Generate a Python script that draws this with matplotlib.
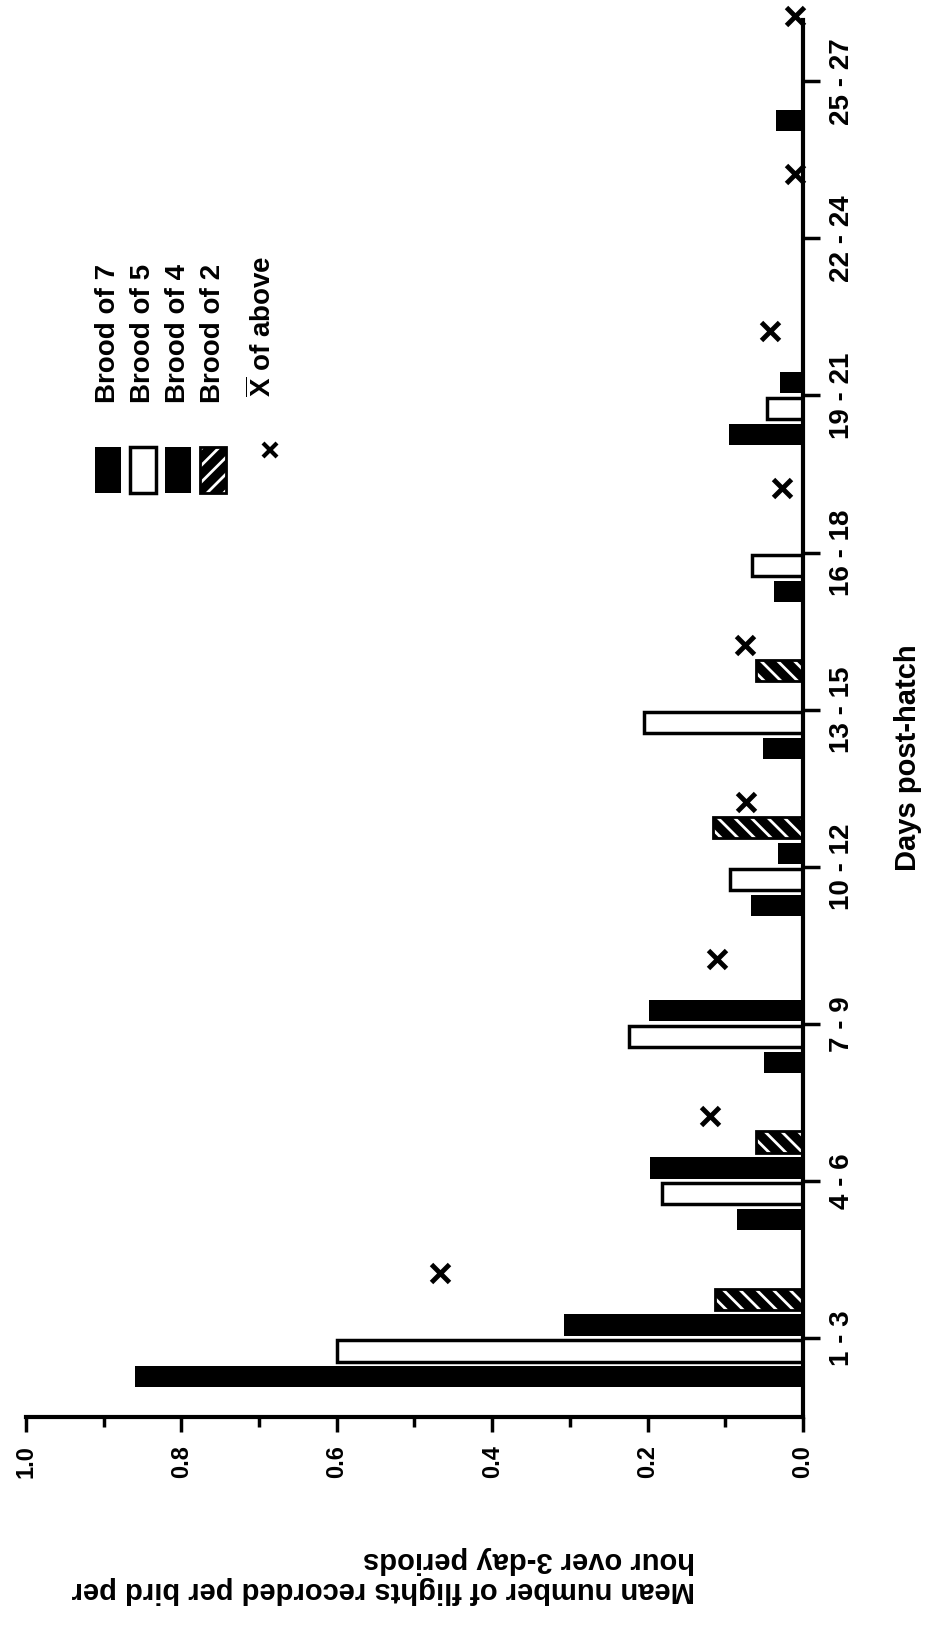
import numpy as np
import matplotlib
matplotlib.use("Agg")
import matplotlib.pyplot as plt
from matplotlib.patches import Rectangle
from matplotlib.lines import Line2D

# --- DATA ---
categories = ["1 - 3", "4 - 6", "7 - 9", "10 - 12", "13 - 15",
              "16 - 18", "19 - 21", "22 - 24", "25 - 27"]
nan = np.nan
brood_7 = [0.86, 0.085, 0.050, 0.067, 0.052, 0.037, 0.095, nan, 0.035]
brood_5 = [0.60, 0.181, 0.224, 0.094, 0.204, 0.065, 0.046, nan, nan]
brood_4 = [0.307, 0.197, 0.198, 0.032, nan, nan, 0.029, nan, nan]
brood_2 = [0.113, 0.060, nan, 0.116, 0.061, nan, nan, nan, nan]
x_mean = [0.467, 0.120, 0.111, 0.073, 0.075, 0.027, 0.042, 0.010, 0.010]

value_ticks = [0.0, 0.2, 0.4, 0.6, 0.8, 1.0]
value_labels = ["0.0", "0.2", "0.4", "0.6", "0.8", "1.0"]

plt.rcParams['font.family'] = ['Liberation Sans', 'DejaVu Sans']
plt.rcParams['font.weight'] = 'bold'
plt.rcParams['mathtext.fontset'] = 'custom'
plt.rcParams['mathtext.rm'] = 'Liberation Sans:bold'
plt.rcParams['mathtext.bf'] = 'Liberation Sans:bold'
plt.rcParams['hatch.linewidth'] = 2.0

W, H = 931, 1627
fig = plt.figure(figsize=(W / 100, H / 100), dpi=100)
# the chart is printed turned 90 degrees: values run right->left, days bottom->top
ax = fig.add_axes([26 / W, (H - 1417) / H, (803 - 26) / W, (1417 - 20) / H])

pos = np.arange(len(categories))
step = 0.165
thick = 0.135

series = [(brood_7, 'black'), (brood_5, 'white'), (brood_4, 'black'), (brood_2, 'hatch')]
for k, (vals, style) in enumerate(series):
    v = np.array(vals, dtype=float)
    m = ~np.isnan(v)
    y = pos[m] + (k - 1.5) * step
    if style == 'black':
        ax.barh(y, v[m], height=thick, color='black', linewidth=0)
    elif style == 'white':
        ax.barh(y, v[m], height=thick, facecolor='white', edgecolor='black', linewidth=2.5)
    else:
        ax.barh(y, v[m], height=thick, facecolor='black', edgecolor='white',
                hatch='\\\\', linewidth=0)
        ax.barh(y, v[m], height=thick, fill=False, edgecolor='black', linewidth=2)

ax.plot(x_mean, pos + 2.5 * step, 'x', color='black', markersize=13,
        markeredgewidth=3.5, clip_on=False, zorder=5)

ax.set_xlim(1.0, 0.0)
ax.set_ylim(-0.503, 8.39)

for s in ['top', 'left']:
    ax.spines[s].set_visible(False)
for s in ['right', 'bottom']:
    ax.spines[s].set_linewidth(3)

ax.yaxis.tick_right()
ax.set_yticks(pos)
ax.set_yticklabels(categories, rotation=90, va='center', fontsize=20, fontweight='bold')
ax.tick_params(axis='y', direction='out', length=12, width=2.5, pad=7)

ax.set_xticks(value_ticks)
ax.set_xticklabels(value_labels, rotation=90, fontsize=17, fontweight='bold')
ax.set_xticks(np.arange(0.1, 1.0, 0.2), minor=True)
ax.tick_params(axis='x', which='major', direction='out', length=11, width=2.5, pad=9)
ax.tick_params(axis='x', which='minor', direction='out', length=7, width=2.5)

# axis titles
fig.text(908 / W, 1 - 758 / H, "Days post-hatch", rotation=90, ha='center', va='center',
         fontsize=21, fontweight='bold')
fig.text(695 / W, 1 - 1575 / H,
         "Mean number of flights recorded per bird per\nhour over 3-day periods",
         rotation=180, ha='right', va='center', multialignment='left',
         fontsize=21, fontweight='bold', linespacing=1.1)

# --- hand-built legend (rotated with the chart) ---
leg_x = [108, 143, 178, 213]
leg_names = ["Brood of 7", "Brood of 5", "Brood of 4", "Brood of 2"]
leg_style = ['black', 'white', 'black', 'hatch']
for cx, name, st in zip(leg_x, leg_names, leg_style):
    rect_kw = dict(transform=fig.transFigure)
    xy = ((cx - 13) / W, 1 - 493 / H)
    w, h = 26 / W, 46 / H
    if st == 'black':
        fig.add_artist(Rectangle(xy, w, h, facecolor='black', linewidth=0, **rect_kw))
    elif st == 'white':
        fig.add_artist(Rectangle(xy, w, h, facecolor='white', edgecolor='black',
                                 linewidth=2.5, **rect_kw))
    else:
        fig.add_artist(Rectangle(xy, w, h, facecolor='black', edgecolor='white',
                                 hatch='//', linewidth=0, **rect_kw))
        fig.add_artist(Rectangle(xy, w, h, fill=False, edgecolor='black',
                                 linewidth=2, **rect_kw))
    fig.text(cx / W, 1 - 403 / H, name, rotation=90, ha='center', va='bottom',
             fontsize=20, fontweight='bold')

fig.add_artist(Line2D([270 / W], [1 - 450 / H], marker='x', color='black',
                      markersize=10, markeredgewidth=3, transform=fig.transFigure))
fig.text(262 / W, 1 - 397 / H, r"$\overline{\mathrm{X}}$ of above", rotation=90,
         ha='center', va='bottom', fontsize=20, fontweight='bold')

fig.savefig("out.png", dpi=100)
